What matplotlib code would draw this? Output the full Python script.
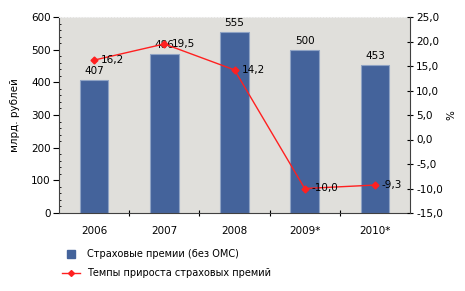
import matplotlib.pyplot as plt
from matplotlib.ticker import MultipleLocator, FuncFormatter
from matplotlib.lines import Line2D

# data
years = ["2006", "2007", "2008", "2009*", "2010*"]
premiums = [407, 486, 555, 500, 453]
growth = [16.2, 19.5, 14.2, -10.0, -9.3]

bar_color = "#44639B"
line_color = "#FF2020"

plt.rcParams["font.family"] = "DejaVu Sans"
plt.rcParams["font.size"] = 7.5

fig = plt.figure(figsize=(4.65, 2.91), dpi=100)
ax = fig.add_axes([59 / 465, 1 - 213 / 291, 351 / 465, 196 / 291])
ax.set_facecolor("#E0DFDB")

x = list(range(len(years)))
ax.bar(x, premiums, width=0.41, color=bar_color, edgecolor="#8FA3C4", linewidth=0.8, zorder=2)
for xi, v in zip(x, premiums):
    ax.text(xi, v + 12, str(v), ha="center", va="bottom", fontsize=7.5)

ax.set_xlim(-0.5, len(years) - 0.5)
ax.set_ylim(0, 600)
ax.yaxis.set_major_locator(MultipleLocator(100))
ax.yaxis.set_minor_locator(MultipleLocator(20))
ax.set_xticks([i + 0.5 for i in x[:-1]])
ax.set_xticklabels([])
ax.set_xticks(x, minor=True)
ax.set_xticklabels(years, minor=True)
ax.tick_params(axis="x", which="minor", length=0, pad=9)
ax.tick_params(axis="x", which="major", length=5, direction="inout")
ax.tick_params(axis="y", which="major", length=4, direction="out", pad=2)
ax.tick_params(axis="y", which="minor", length=1.5, direction="in")
ax.set_ylabel("млрд. рублей", labelpad=8)

for s in ["top", "right"]:
    ax.spines[s].set_visible(False)
ax.spines["left"].set_color("#404040")
ax.spines["bottom"].set_color("#404040")

ax2 = ax.twinx()
ax2.plot(x, growth, color=line_color, marker="D", markersize=3.5, linewidth=1, zorder=3)
for xi, v in zip(x, growth):
    ax2.text(xi + 0.1, v, f"{v:.1f}".replace(".", ","), ha="left", va="center", fontsize=7.5)
ax2.set_ylim(-15, 25)
ax2.yaxis.set_major_locator(MultipleLocator(5))
ax2.yaxis.set_major_formatter(FuncFormatter(lambda v, p: f"{v:.1f}".replace(".", ",")))
ax2.tick_params(axis="y", which="major", length=5, direction="inout", pad=2)
ax2.set_ylabel("%", labelpad=2)
for s in ["top", "left", "bottom"]:
    ax2.spines[s].set_visible(False)
ax2.spines["right"].set_color("#404040")
ax.spines["top"].set_visible(True)
ax.spines["top"].set_color("#F0F0F0")
ax.spines["top"].set_linestyle(":")

handles = [
    Line2D([], [], linestyle="none", marker="s", markersize=5.5, color=bar_color),
    Line2D([], [], color=line_color, marker="D", markersize=3, linewidth=1),
]
labels = ["Страховые премии (без ОМС)", "Темпы прироста страховых премий"]
fig.legend(handles, labels, loc="upper left", bbox_to_anchor=(62 / 465, 1 - 249 / 291),
           frameon=False, fontsize=7, handlelength=1.9, handletextpad=0.7,
           labelspacing=0.95, borderpad=0, borderaxespad=0)

fig.savefig("out.png", dpi=100)
